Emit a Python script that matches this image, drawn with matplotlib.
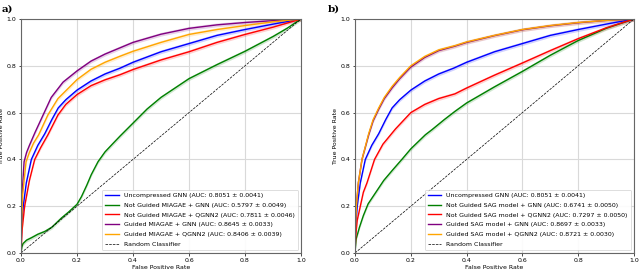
import numpy as np
import matplotlib
matplotlib.use("Agg")
import matplotlib.pyplot as plt

plt.rcParams["font.family"] = ["DejaVu Sans"]
FS = 4.5

# --- curves (FPR, TPR) ---
blue_x = [0, 0.002, 0.008, 0.019, 0.037, 0.06, 0.085, 0.11, 0.133, 0.16, 0.2, 0.25, 0.3, 0.354, 0.4, 0.5, 0.6, 0.7, 0.8, 0.9, 1.0]
blue_y = [0, 0.10, 0.20, 0.30, 0.40, 0.46, 0.51, 0.57, 0.62, 0.655, 0.696, 0.735, 0.765, 0.79, 0.815, 0.86, 0.895, 0.93, 0.955, 0.978, 1.0]

# panel a) MIAGAE
a_green_x = [0, 0.003, 0.007, 0.02, 0.037, 0.06, 0.085, 0.11, 0.144, 0.17, 0.2, 0.216, 0.235, 0.251, 0.275, 0.3, 0.33, 0.354, 0.4, 0.45, 0.5, 0.55, 0.6, 0.7, 0.8, 0.9, 0.95, 1.0]
a_green_y = [0, 0.025, 0.04, 0.055, 0.065, 0.08, 0.092, 0.11, 0.149, 0.175, 0.208, 0.241, 0.29, 0.335, 0.39, 0.432, 0.47, 0.50, 0.555, 0.615, 0.665, 0.705, 0.745, 0.805, 0.862, 0.925, 0.96, 1.0]
a_red_x = [0, 0.004, 0.013, 0.03, 0.049, 0.07, 0.096, 0.132, 0.16, 0.2, 0.25, 0.3, 0.354, 0.4, 0.5, 0.6, 0.7, 0.8, 0.9, 1.0]
a_red_y = [0, 0.10, 0.20, 0.31, 0.40, 0.45, 0.505, 0.59, 0.635, 0.677, 0.715, 0.74, 0.762, 0.784, 0.825, 0.86, 0.90, 0.934, 0.965, 1.0]
a_purple_x = [0, 0.002, 0.005, 0.011, 0.02, 0.03, 0.05, 0.079, 0.108, 0.15, 0.2, 0.25, 0.3, 0.354, 0.4, 0.5, 0.6, 0.7, 0.8, 0.9, 1.0]
a_purple_y = [0, 0.15, 0.27, 0.39, 0.43, 0.46, 0.515, 0.59, 0.665, 0.73, 0.778, 0.82, 0.85, 0.877, 0.90, 0.935, 0.96, 0.975, 0.985, 0.993, 1.0]
a_orange_x = [0, 0.002, 0.006, 0.018, 0.03, 0.045, 0.063, 0.096, 0.132, 0.2, 0.25, 0.3, 0.354, 0.4, 0.5, 0.6, 0.7, 0.8, 0.9, 1.0]
a_orange_y = [0, 0.12, 0.25, 0.39, 0.43, 0.47, 0.505, 0.59, 0.66, 0.741, 0.785, 0.815, 0.841, 0.862, 0.90, 0.934, 0.955, 0.972, 0.988, 1.0]

# panel b) SAG model
b_green_x = [0, 0.004, 0.016, 0.03, 0.047, 0.075, 0.103, 0.135, 0.168, 0.2, 0.252, 0.276, 0.32, 0.358, 0.4, 0.5, 0.6, 0.7, 0.8, 0.9, 1.0]
b_green_y = [0, 0.06, 0.11, 0.16, 0.21, 0.26, 0.31, 0.355, 0.40, 0.445, 0.505, 0.527, 0.57, 0.605, 0.641, 0.71, 0.776, 0.845, 0.908, 0.96, 1.0]
b_red_x = [0, 0.003, 0.008, 0.019, 0.03, 0.043, 0.07, 0.1, 0.145, 0.2, 0.25, 0.3, 0.358, 0.4, 0.5, 0.6, 0.7, 0.8, 0.9, 1.0]
b_red_y = [0, 0.08, 0.14, 0.20, 0.26, 0.30, 0.40, 0.465, 0.53, 0.60, 0.635, 0.66, 0.68, 0.705, 0.76, 0.812, 0.865, 0.916, 0.962, 1.0]
b_orange_x = [0, 0.002, 0.005, 0.012, 0.025, 0.049, 0.065, 0.085, 0.105, 0.133, 0.16, 0.2, 0.25, 0.3, 0.358, 0.4, 0.5, 0.6, 0.7, 0.8, 0.9, 1.0]
b_orange_y = [0, 0.12, 0.20, 0.30, 0.40, 0.51, 0.57, 0.62, 0.665, 0.712, 0.75, 0.80, 0.84, 0.868, 0.886, 0.902, 0.93, 0.955, 0.972, 0.985, 0.994, 1.0]
b_purple_x = b_orange_x
b_purple_y = [0, 0.12, 0.20, 0.30, 0.40, 0.505, 0.565, 0.615, 0.66, 0.706, 0.745, 0.795, 0.836, 0.865, 0.884, 0.90, 0.929, 0.954, 0.971, 0.984, 0.994, 1.0]

a_labels = ["Uncompressed GNN (AUC: 0.8051 ± 0.0041)",
            "Not Guided MIAGAE + GNN (AUC: 0.5797 ± 0.0049)",
            "Not Guided MIAGAE + QGNN2 (AUC: 0.7811 ± 0.0046)",
            "Guided MIAGAE + GNN (AUC: 0.8645 ± 0.0033)",
            "Guided MIAGAE + QGNN2 (AUC: 0.8406 ± 0.0039)"]
b_labels = ["Uncompressed GNN (AUC: 0.8051 ± 0.0041)",
            "Not Guided SAG model + GNN (AUC: 0.6741 ± 0.0050)",
            "Not Guided SAG model + QGNN2 (AUC: 0.7297 ± 0.0050)",
            "Guided SAG model + GNN (AUC: 0.8697 ± 0.0033)",
            "Guided SAG model + QGNN2 (AUC: 0.8721 ± 0.0030)"]
colors = ["blue", "green", "red", "purple", "orange"]

fig = plt.figure(figsize=(6.4, 2.69), dpi=100)
ax_a = fig.add_axes([21/640, 16/269, 280/640, 234/269])
ax_b = fig.add_axes([355/640, 16/269, 279/640, 234/269])

panels = [
    (ax_a, a_labels, [(blue_x, blue_y), (a_green_x, a_green_y), (a_red_x, a_red_y),
                      (a_purple_x, a_purple_y), (a_orange_x, a_orange_y)]),
    (ax_b, b_labels, [(blue_x, blue_y), (b_green_x, b_green_y), (b_red_x, b_red_y),
                      (b_purple_x, b_purple_y), (b_orange_x, b_orange_y)]),
]

for ax, labels, curves in panels:
    for (x, y), c, lab in zip(curves, colors, labels):
        x = np.asarray(x); y = np.asarray(y)
        ax.fill_between(x, y - 0.008, y + 0.008, color=c, alpha=0.18, lw=0)
        ax.plot(x, y, color=c, lw=1.0, label=lab)
    ax.plot([0, 1], [0, 1], "k--", lw=0.5, label="Random Classifier")
    ax.set_xlim(0, 1)
    ax.set_ylim(0, 1)
    ax.set_xticks(np.arange(0, 1.01, 0.2))
    ax.set_yticks(np.arange(0, 1.01, 0.2))
    ax.grid(True, color="#d9d9d9", lw=0.8)
    ax.set_axisbelow(True)
    ax.tick_params(labelsize=FS, length=1.8, width=0.5, pad=1.5)
    for s in ax.spines.values():
        s.set_color("#666666")
        s.set_linewidth(0.8)
    ax.set_xlabel("False Positive Rate", fontsize=FS, labelpad=1.5)
    ax.set_ylabel("True Positive Rate", fontsize=FS, labelpad=1.5)
    leg = ax.legend(loc="lower right", fontsize=FS, labelspacing=0.7, handlelength=2.2,
                    borderpad=0.5, framealpha=0.9, edgecolor="#cccccc")
    leg.get_frame().set_linewidth(0.5)

fig.text(0.003, 0.968, "a)", fontsize=7.5, fontweight="bold", family="DejaVu Serif", va="center")
fig.text(328/640, 0.968, "b)", fontsize=7.5, fontweight="bold", family="DejaVu Serif", va="center")

fig.savefig("out.png", dpi=100)
